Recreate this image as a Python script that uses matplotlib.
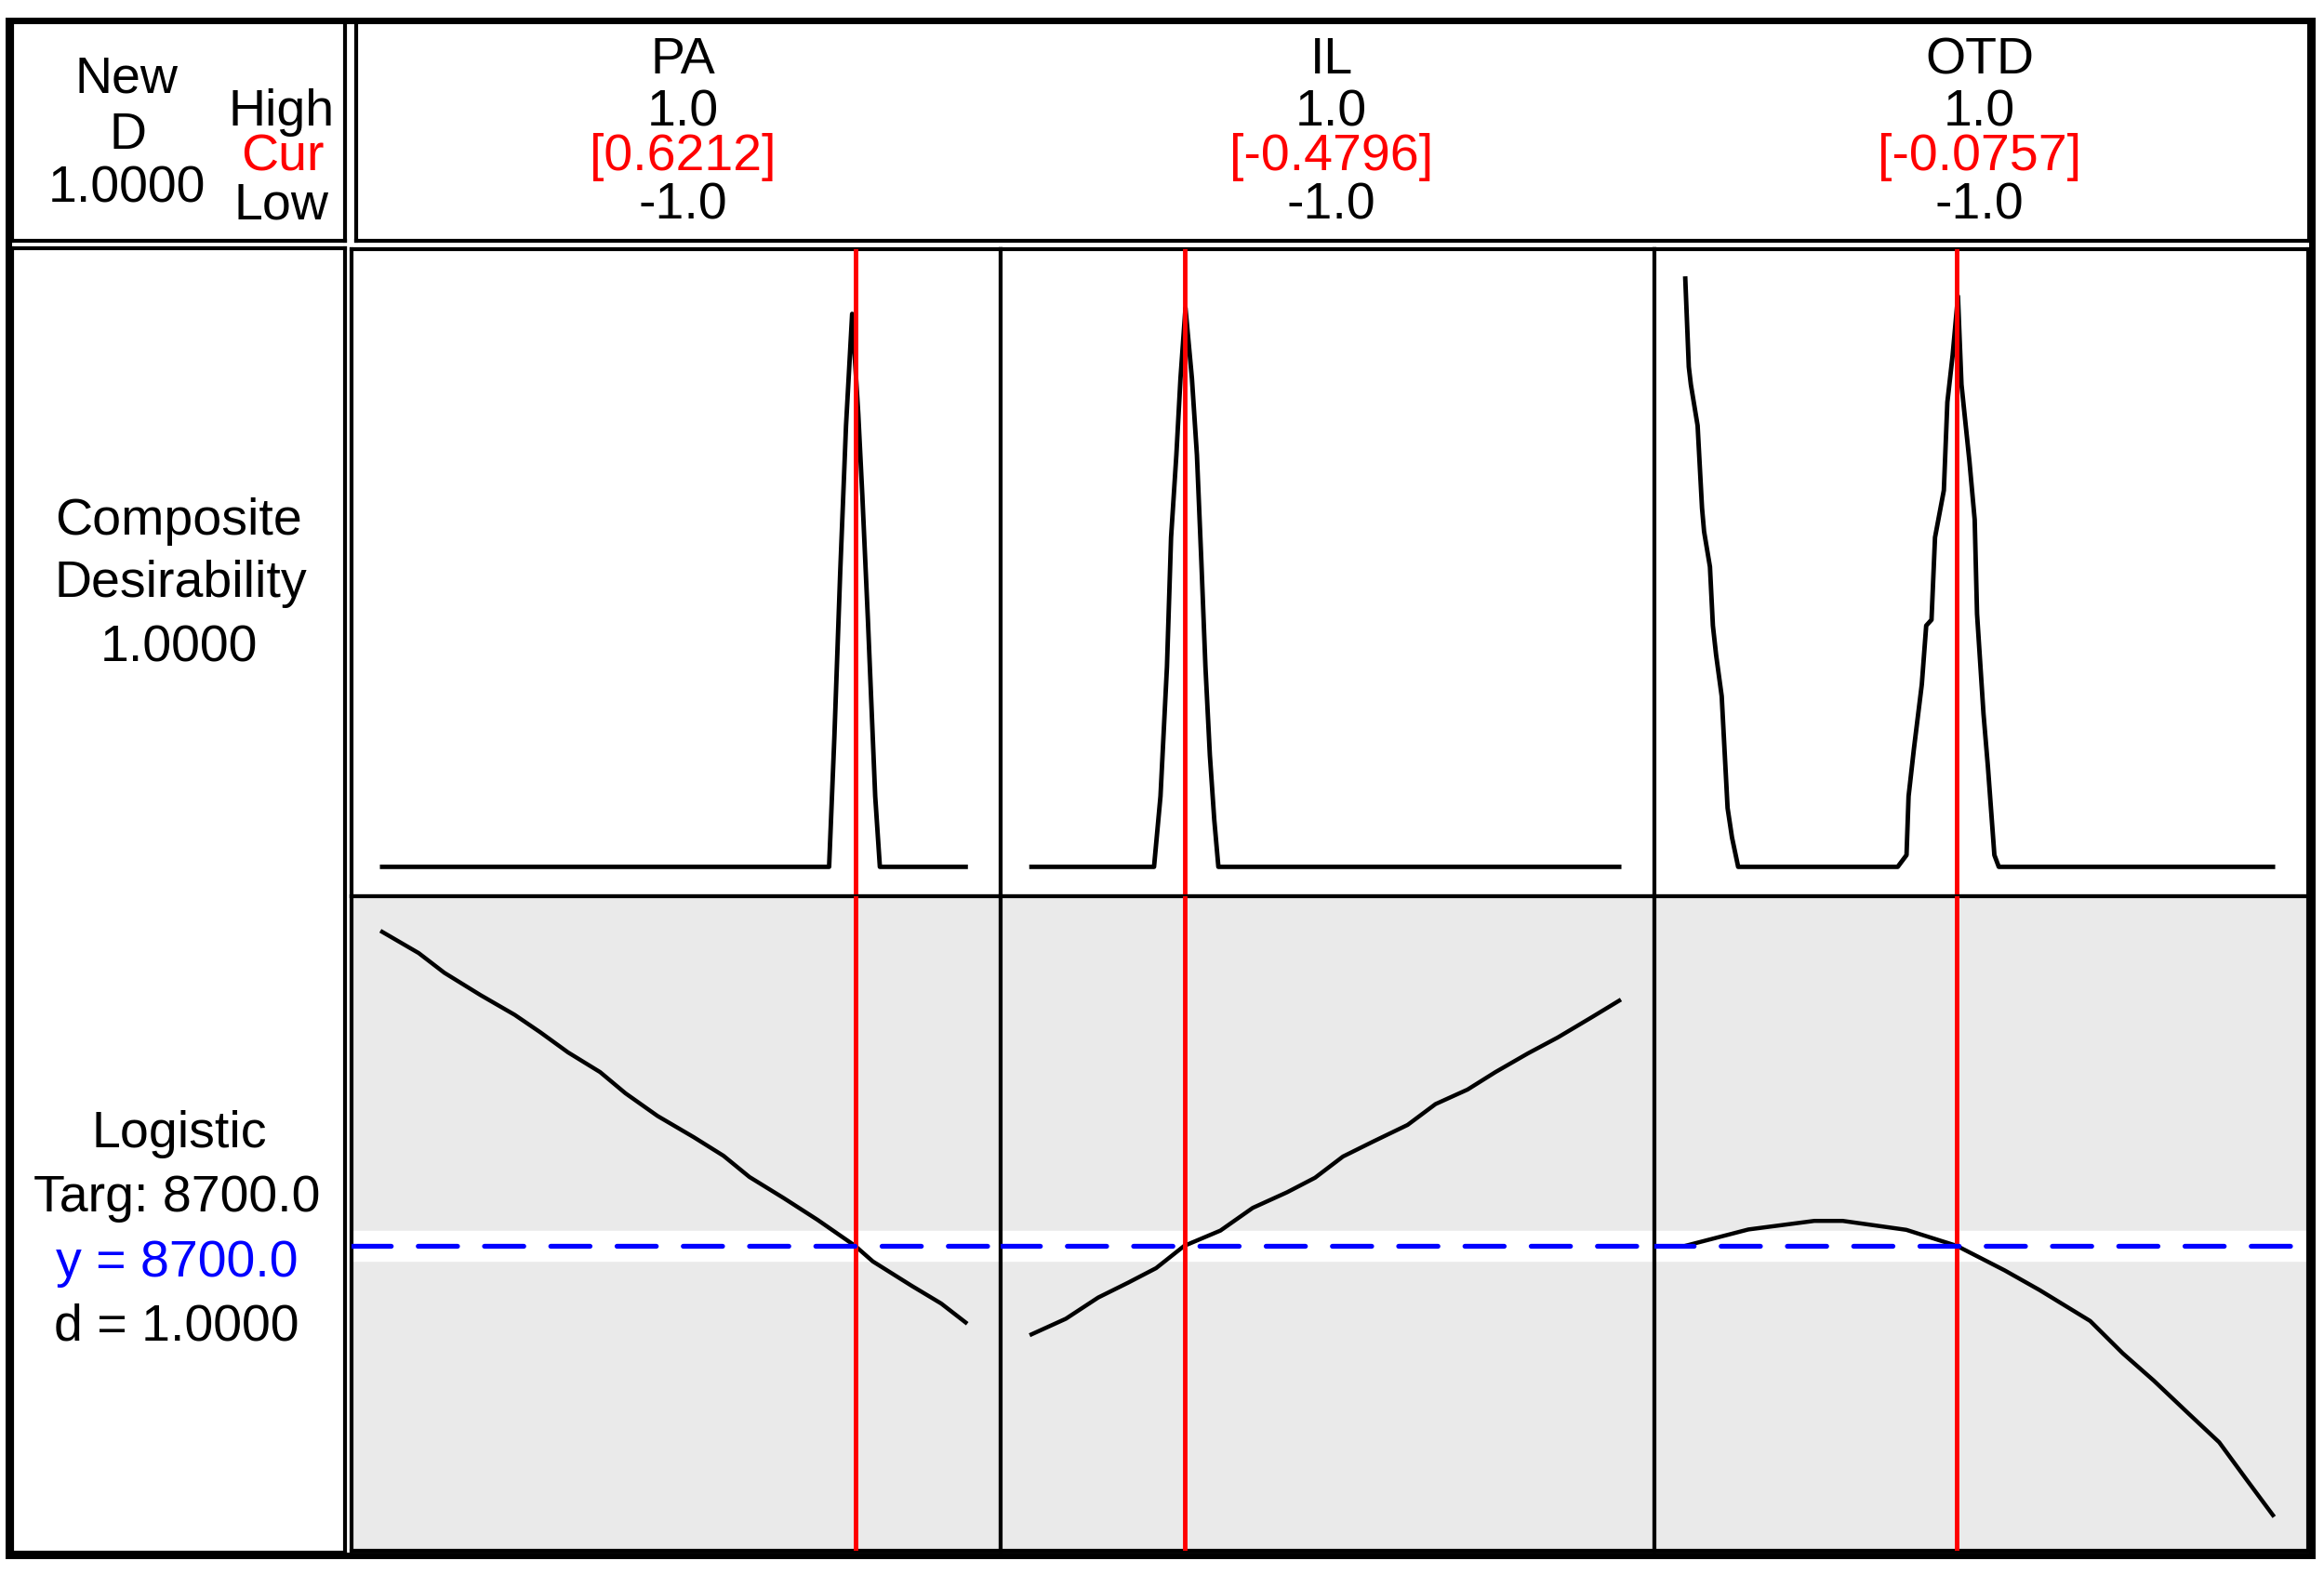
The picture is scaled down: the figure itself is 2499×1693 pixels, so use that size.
import matplotlib
matplotlib.use('Agg')
from matplotlib import pyplot as plt
from matplotlib.patches import Rectangle

plt.rcParams['font.family'] = ['Liberation Sans', 'DejaVu Sans']

factors = ['PA', 'IL', 'OTD']
high = [1.0, 1.0, 1.0]
low = [-1.0, -1.0, -1.0]
current = [0.6212, -0.4796, -0.0757]
response_name = 'Logistic'
target = 8700.0
y_pred = 8700.0
d_single = 1.0
composite_d = 1.0

# desirability traces (coded x, d)
pa_dx = [-1.0, 0.532, 0.550, 0.570, 0.590, 0.611, 0.632, 0.646, 0.665, 0.690, 0.706, 1.0]
pa_d = [0.0, 0.0, 0.22, 0.50, 0.75, 0.94, 0.77, 0.63, 0.42, 0.12, 0.0, 0.0]
il_dx = [-1.0, -0.583, -0.561, -0.539, -0.525, -0.507, -0.493, -0.476, -0.454, -0.437,
         -0.422, -0.408, -0.393, -0.378, -0.364, 1.0]
il_d = [0.0, 0.0, 0.12, 0.34, 0.56, 0.70, 0.83, 0.95, 0.83, 0.70, 0.52, 0.34, 0.19, 0.08, 0.0, 0.0]
otd_dx = [-1.0, -0.988, -0.981, -0.958, -0.943, -0.936, -0.916, -0.906, -0.895, -0.876, -0.856,
          -0.841, -0.820, -0.277, -0.247, -0.240, -0.222, -0.195, -0.180, -0.162, -0.150, -0.120,
          -0.108, -0.090, -0.072, -0.060, -0.033, -0.015, -0.007, 0.015, 0.030, 0.052, 0.067, 1.0]
otd_d = [1.0, 0.85, 0.82, 0.75, 0.61, 0.57, 0.51, 0.41, 0.36, 0.29, 0.10, 0.05, 0.0, 0.0, 0.02,
         0.12, 0.20, 0.31, 0.41, 0.42, 0.56, 0.64, 0.79, 0.87, 0.97, 0.82, 0.69, 0.59, 0.43, 0.26,
         0.17, 0.02, 0.0, 0.0]

# predicted response traces (coded x, y)
pa_rx = [-1.0, -0.875, -0.787, -0.663, -0.546, -0.458, -0.363, -0.253, -0.166, -0.056, 0.068,
         0.170, 0.259, 0.375, 0.492, 0.621, 0.682, 0.814, 0.916, 1.0]
pa_y = [9544, 9487, 9434, 9374, 9321, 9274, 9220, 9167, 9110, 9049, 8992, 8942, 8885, 8829,
        8770, 8700, 8658, 8593, 8545, 8494]
il_rx = [-1.0, -0.883, -0.773, -0.671, -0.576, -0.480, -0.357, -0.247, -0.130, -0.035, 0.060,
         0.162, 0.280, 0.375, 0.484, 0.579, 0.689, 0.791, 0.908, 1.0]
il_y = [8462, 8504, 8561, 8601, 8640, 8700, 8741, 8802, 8844, 8883, 8940, 8980, 9025, 9081,
        9120, 9167, 9217, 9260, 9315, 9359]
otd_rx = [-1.0, -0.785, -0.561, -0.464, -0.248, -0.076, 0.087, 0.206, 0.378, 0.489, 0.594,
          0.713, 0.817, 0.907, 1.0]
otd_y = [8700, 8744, 8767, 8767, 8743, 8700, 8634, 8581, 8498, 8411, 8338, 8249, 8172, 8075, 7976]

d_curves = [(pa_dx, pa_d), (il_dx, il_d), (otd_dx, otd_d)]
r_curves = [(pa_rx, pa_y), (il_rx, il_y), (otd_rx, otd_y)]

W, H = 2499, 1693


def box(x0, y0, x1, y1):
    return [x0 / W, 1 - y1 / H, (x1 - x0) / W, (y1 - y0) / H]


def blank(ax, lw=3.0):
    ax.set_xticks([])
    ax.set_yticks([])
    for s in ax.spines.values():
        s.set_linewidth(lw)
        s.set_color('black')


def label(x, y, s, color='black'):
    # x, y in pixels from top-left; y is the text baseline
    fig.text(x / W, 1 - y / H, s, ha='center', va='baseline', fontsize=fs, color=color)


fig = plt.figure(figsize=(W / 100, H / 100), dpi=100)
fs = 40

# frame boxes
for b in [box(13, 23, 371, 259), box(383, 23, 2483, 259), box(13, 267, 371, 1670)]:
    a = fig.add_axes(b)
    blank(a)
fig.patches.append(Rectangle((9 / W, 1 - 1673 / H), 2477 / W, 1651 / H, fill=False,
                             lw=5, ec='black', transform=fig.transFigure, zorder=10))

# all response values for scaling the lower row
all_y = pa_y + il_y + otd_y
ymin, ymax = min(all_y), max(all_y)
pad = 0.061 * (ymax - ymin)

cols = [378, 1076, 1779, 2482]
for i, name in enumerate(factors):
    axd = fig.add_axes(box(cols[i], 268, cols[i + 1], 964))
    axr = fig.add_axes(box(cols[i], 964, cols[i + 1], 1668))
    for ax in (axd, axr):
        blank(ax)
        ax.set_xlim(-1.105, 1.12)
        ax.axvline(current[i], color='red', lw=3.5, zorder=4)
    axd.plot(d_curves[i][0], d_curves[i][1], color='black', lw=3.5)
    axd.set_ylim(-0.05, 1.05)

    axr.set_facecolor('#EAEAEA')
    axr.axhspan(target - 40, target + 40, color='white', zorder=0)
    axr.plot(r_curves[i][0], r_curves[i][1], color='black', lw=3.2, zorder=3)
    axr.axhline(y_pred, color='blue', lw=3.8, dashes=(8, 5.5),
                dash_capstyle='round', zorder=5)
    axr.set_ylim(ymin - pad, ymax + pad)

    # header text per factor
    cx = (cols[i] + cols[i + 1]) / 2 + [7, 4, -2][i]
    label(cx, 79, name)
    label(cx, 135, f'{high[i]:.1f}')
    label(cx, 183, f'[{current[i]:.4f}]', color='red')
    label(cx, 235, f'{low[i]:.1f}')

# left header
label(136, 100, 'New')
label(138, 160, 'D')
label(136, 217, f'{composite_d:.4f}')
label(303, 135, 'High')
label(304, 183, 'Cur', color='red')
label(302, 235, 'Low')

# left labels
label(192, 575, 'Composite')
label(194, 642, 'Desirability')
label(192, 711, f'{composite_d:.4f}')
label(193, 1234, response_name)
label(190, 1303, f'Targ: {target:.1f}')
label(190, 1373, f'y = {y_pred:.1f}', color='blue')
label(190, 1441, f'd = {d_single:.4f}')

fig.savefig('out.png', dpi=100, facecolor='white')
